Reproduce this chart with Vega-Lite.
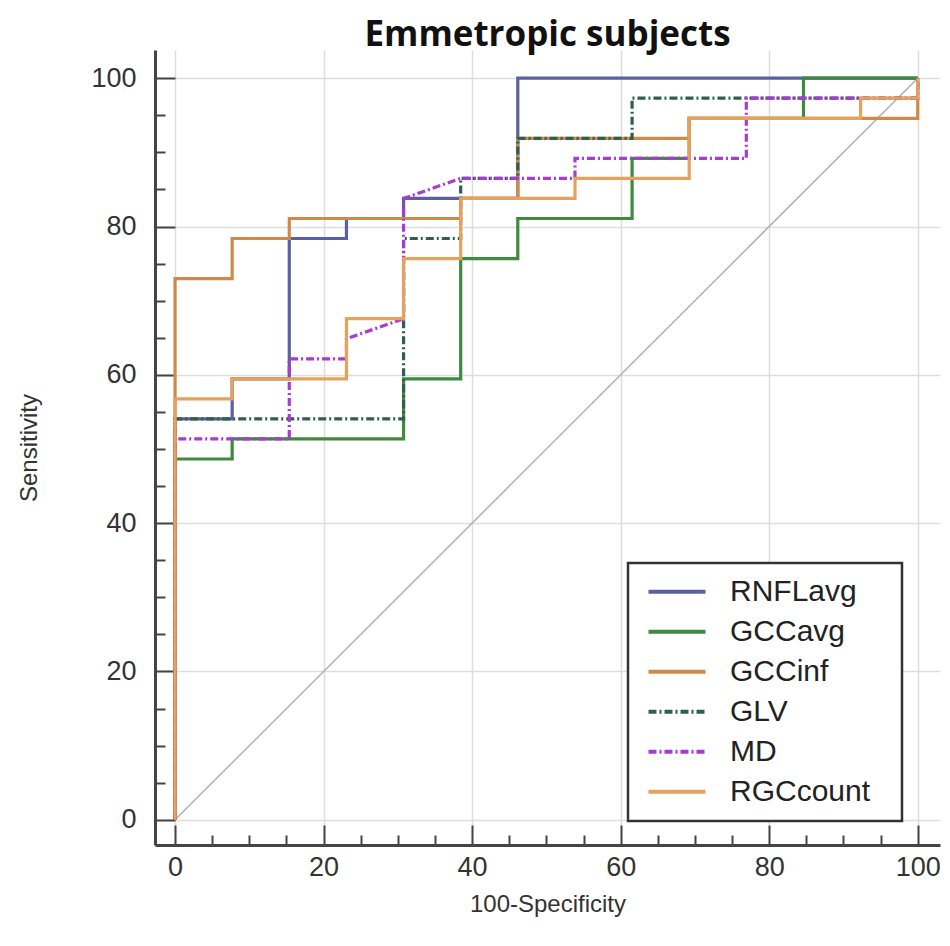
{
  "$schema": "https://vega.github.io/schema/vega-lite/v6.json",
  "width": 785,
  "height": 795,
  "autosize": {"type": "none"},
  "padding": {"left": 155, "top": 50, "right": 10, "bottom": 101},
  "background": "white",
  "title": {"text": "Emmetropic subjects", "fontSize": 35, "font": "Open Sans", "fontWeight": "bold", "color": "#111111", "anchor": "middle", "offset": -3},
  "config": {"view": {"stroke": null}},
  "encoding": {
    "x": {
      "field": "x", "type": "quantitative",
      "scale": {"domain": [-2.7, 103], "nice": false, "zero": false},
      "axis": {
        "values": [0,5,10,15,20,25,30,35,40,45,50,55,60,65,70,75,80,85,90,95,100],
        "labelExpr": "datum.value % 20 === 0 ? datum.label : ''",
        "tickSize": {"condition": {"test": "datum.value % 20 === 0", "value": -20}, "value": -10},
        "gridOpacity": {"condition": {"test": "datum.value % 20 === 0", "value": 1}, "value": 0},
        "grid": true, "gridColor": "#dddddd", "gridWidth": 1.5,
        "domainColor": "#444444", "domainWidth": 3, "tickColor": "#444444", "tickWidth": 2,
        "labelFontSize": 27, "labelFont": "Liberation Sans", "labelColor": "#333333", "labelPadding": 29,
        "title": "100-Specificity", "titleFontSize": 24, "titleFont": "Liberation Sans", "titleFontWeight": "normal", "titleColor": "#333333", "titlePadding": 12
      }
    },
    "y": {
      "field": "y", "type": "quantitative",
      "scale": {"domain": [-3.4, 103.8], "nice": false, "zero": false},
      "axis": {
        "values": [0,5,10,15,20,25,30,35,40,45,50,55,60,65,70,75,80,85,90,95,100],
        "labelExpr": "datum.value % 20 === 0 ? datum.label : ''",
        "tickSize": {"condition": {"test": "datum.value % 20 === 0", "value": -20}, "value": -10},
        "gridOpacity": {"condition": {"test": "datum.value % 20 === 0", "value": 1}, "value": 0},
        "grid": true, "gridColor": "#dddddd", "gridWidth": 1.5,
        "domainColor": "#444444", "domainWidth": 3, "tickColor": "#444444", "tickWidth": 2,
        "labelFontSize": 27, "labelFont": "Liberation Sans", "labelColor": "#333333", "labelPadding": 39,
        "title": "Sensitivity", "titleFontSize": 24, "titleFont": "Liberation Sans", "titleFontWeight": "normal", "titleColor": "#333333", "titlePadding": 49
      }
    }
  },
  "layer": [
    {
      "data": {"values": [{"x": 0, "y": 0}, {"x": 100, "y": 100}]},
      "mark": {"type": "line", "color": "#b0b0b0", "strokeWidth": 1.5}
    },
    {
      "data": {"values": [
        {"series": "RNFLavg", "o": 1, "x": 0, "y": 0},
        {"series": "RNFLavg", "o": 2, "x": 0, "y": 54.05},
        {"series": "RNFLavg", "o": 3, "x": 7.69, "y": 54.05},
        {"series": "RNFLavg", "o": 4, "x": 7.69, "y": 59.46},
        {"series": "RNFLavg", "o": 5, "x": 15.38, "y": 59.46},
        {"series": "RNFLavg", "o": 6, "x": 15.38, "y": 78.38},
        {"series": "RNFLavg", "o": 7, "x": 23.08, "y": 78.38},
        {"series": "RNFLavg", "o": 8, "x": 23.08, "y": 81.08},
        {"series": "RNFLavg", "o": 9, "x": 30.77, "y": 81.08},
        {"series": "RNFLavg", "o": 10, "x": 30.77, "y": 83.78},
        {"series": "RNFLavg", "o": 11, "x": 46.15, "y": 83.78},
        {"series": "RNFLavg", "o": 12, "x": 46.15, "y": 100},
        {"series": "RNFLavg", "o": 13, "x": 100, "y": 100},

        {"series": "GCCavg", "o": 1, "x": 0, "y": 0},
        {"series": "GCCavg", "o": 2, "x": 0, "y": 48.65},
        {"series": "GCCavg", "o": 3, "x": 7.69, "y": 48.65},
        {"series": "GCCavg", "o": 4, "x": 7.69, "y": 51.35},
        {"series": "GCCavg", "o": 5, "x": 30.77, "y": 51.35},
        {"series": "GCCavg", "o": 6, "x": 30.77, "y": 59.46},
        {"series": "GCCavg", "o": 7, "x": 38.46, "y": 59.46},
        {"series": "GCCavg", "o": 8, "x": 38.46, "y": 75.68},
        {"series": "GCCavg", "o": 9, "x": 46.15, "y": 75.68},
        {"series": "GCCavg", "o": 10, "x": 46.15, "y": 81.08},
        {"series": "GCCavg", "o": 11, "x": 61.54, "y": 81.08},
        {"series": "GCCavg", "o": 12, "x": 61.54, "y": 89.19},
        {"series": "GCCavg", "o": 13, "x": 69.23, "y": 89.19},
        {"series": "GCCavg", "o": 14, "x": 69.23, "y": 94.59},
        {"series": "GCCavg", "o": 15, "x": 84.62, "y": 94.59},
        {"series": "GCCavg", "o": 16, "x": 84.62, "y": 100},
        {"series": "GCCavg", "o": 17, "x": 100, "y": 100},

        {"series": "GCCinf", "o": 1, "x": 0, "y": 0},
        {"series": "GCCinf", "o": 2, "x": 0, "y": 72.97},
        {"series": "GCCinf", "o": 3, "x": 7.69, "y": 72.97},
        {"series": "GCCinf", "o": 4, "x": 7.69, "y": 78.38},
        {"series": "GCCinf", "o": 5, "x": 15.38, "y": 78.38},
        {"series": "GCCinf", "o": 6, "x": 15.38, "y": 81.08},
        {"series": "GCCinf", "o": 7, "x": 38.46, "y": 81.08},
        {"series": "GCCinf", "o": 8, "x": 38.46, "y": 83.78},
        {"series": "GCCinf", "o": 9, "x": 46.15, "y": 83.78},
        {"series": "GCCinf", "o": 10, "x": 46.15, "y": 91.89},
        {"series": "GCCinf", "o": 11, "x": 69.23, "y": 91.89},
        {"series": "GCCinf", "o": 12, "x": 69.23, "y": 94.59},
        {"series": "GCCinf", "o": 13, "x": 100, "y": 94.59},
        {"series": "GCCinf", "o": 14, "x": 100, "y": 100},

        {"series": "GLV", "o": 1, "x": 0, "y": 0},
        {"series": "GLV", "o": 2, "x": 0, "y": 54.05},
        {"series": "GLV", "o": 3, "x": 30.77, "y": 54.05},
        {"series": "GLV", "o": 4, "x": 30.77, "y": 78.38},
        {"series": "GLV", "o": 5, "x": 38.46, "y": 78.38},
        {"series": "GLV", "o": 6, "x": 38.46, "y": 86.49},
        {"series": "GLV", "o": 7, "x": 46.15, "y": 86.49},
        {"series": "GLV", "o": 8, "x": 46.15, "y": 91.89},
        {"series": "GLV", "o": 9, "x": 61.54, "y": 91.89},
        {"series": "GLV", "o": 10, "x": 61.54, "y": 97.3},
        {"series": "GLV", "o": 11, "x": 100, "y": 97.3},
        {"series": "GLV", "o": 12, "x": 100, "y": 100},

        {"series": "MD", "o": 1, "x": 0, "y": 0},
        {"series": "MD", "o": 2, "x": 0, "y": 51.35},
        {"series": "MD", "o": 3, "x": 15.38, "y": 51.35},
        {"series": "MD", "o": 4, "x": 15.38, "y": 62.16},
        {"series": "MD", "o": 5, "x": 23.08, "y": 62.16},
        {"series": "MD", "o": 6, "x": 23.08, "y": 64.86},
        {"series": "MD", "o": 7, "x": 30.77, "y": 67.57},
        {"series": "MD", "o": 8, "x": 30.77, "y": 83.78},
        {"series": "MD", "o": 9, "x": 38.46, "y": 86.49},
        {"series": "MD", "o": 10, "x": 53.85, "y": 86.49},
        {"series": "MD", "o": 11, "x": 53.85, "y": 89.19},
        {"series": "MD", "o": 12, "x": 76.92, "y": 89.19},
        {"series": "MD", "o": 13, "x": 76.92, "y": 97.3},
        {"series": "MD", "o": 14, "x": 100, "y": 97.3},
        {"series": "MD", "o": 15, "x": 100, "y": 100},

        {"series": "RGCcount", "o": 1, "x": 0, "y": 0},
        {"series": "RGCcount", "o": 2, "x": 0, "y": 56.76},
        {"series": "RGCcount", "o": 3, "x": 7.69, "y": 56.76},
        {"series": "RGCcount", "o": 4, "x": 7.69, "y": 59.46},
        {"series": "RGCcount", "o": 5, "x": 23.08, "y": 59.46},
        {"series": "RGCcount", "o": 6, "x": 23.08, "y": 67.57},
        {"series": "RGCcount", "o": 7, "x": 30.77, "y": 67.57},
        {"series": "RGCcount", "o": 8, "x": 30.77, "y": 75.68},
        {"series": "RGCcount", "o": 9, "x": 38.46, "y": 75.68},
        {"series": "RGCcount", "o": 10, "x": 38.46, "y": 83.78},
        {"series": "RGCcount", "o": 11, "x": 53.85, "y": 83.78},
        {"series": "RGCcount", "o": 12, "x": 53.85, "y": 86.49},
        {"series": "RGCcount", "o": 13, "x": 69.23, "y": 86.49},
        {"series": "RGCcount", "o": 14, "x": 69.23, "y": 94.59},
        {"series": "RGCcount", "o": 15, "x": 92.31, "y": 94.59},
        {"series": "RGCcount", "o": 16, "x": 92.31, "y": 97.3},
        {"series": "RGCcount", "o": 17, "x": 100, "y": 97.3},
        {"series": "RGCcount", "o": 18, "x": 100, "y": 100}
      ]},
      "mark": {"type": "line", "strokeWidth": 3.2},
      "encoding": {
        "order": {"field": "o", "type": "quantitative"},
        "color": {
          "field": "series", "type": "nominal",
          "scale": {
            "domain": ["RNFLavg", "GCCavg", "GCCinf", "GLV", "MD", "RGCcount"],
            "range": ["#5c5fa3", "#3e8a3e", "#cf8a47", "#2f5f50", "#a83ad6", "#e6a15c"]
          },
          "legend": {
            "orient": "none", "legendX": 473, "legendY": 513,
            "title": null, "symbolType": "stroke", "symbolSize": 3250, "symbolStrokeWidth": 4,
            "labelFontSize": 30, "labelFont": "Liberation Sans", "labelColor": "#222222",
            "labelLimit": 400,
            "labelExpr": "datum.label + '\u2800'",
            "strokeColor": "#333333", "fillColor": "white",
            "padding": 9, "rowPadding": 0, "clipHeight": 39.5, "symbolOffset": 9, "labelOffset": 22,
            "cornerRadius": 0,
            "encode": {"legend": {"update": {"strokeWidth": {"value": 2.5}}}}
          }
        },
        "strokeDash": {
          "field": "series", "type": "nominal",
          "scale": {
            "domain": ["RNFLavg", "GCCavg", "GCCinf", "GLV", "MD", "RGCcount"],
            "range": [[1, 0], [1, 0], [1, 0], [8, 3, 2, 3], [8, 3, 2, 3], [1, 0]]
          }
        }
      }
    }
  ]
}
